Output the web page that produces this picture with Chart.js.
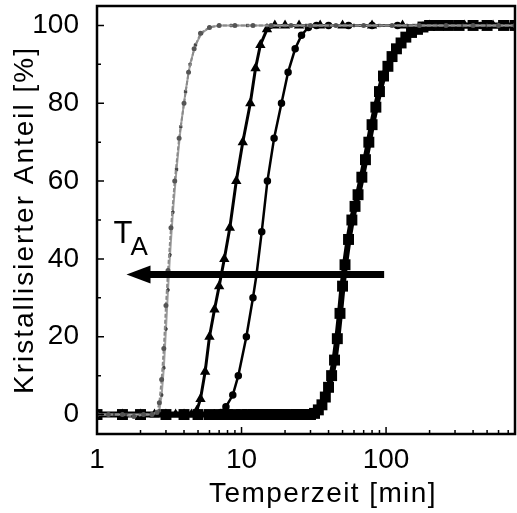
<!DOCTYPE html>
<html>
<head>
<meta charset="utf-8">
<script src="https://cdn.jsdelivr.net/npm/chart.js@4"></script>
<style>
  html, body { margin: 0; padding: 0; background: #fff; overflow: hidden; }
  #wrap { width: 517px; height: 513px; }
</style>
</head>
<body>
<div id="wrap"><canvas id="c"></canvas></div>
<script>
// values (x: Temperzeit in min, y: % crystallised)
var greyDashX = [1, 1.2, 1.5, 1.8, 2.1, 2.4, 2.6, 2.7, 2.8, 2.9, 3.0, 3.1, 3.25, 3.45, 3.7, 4.0, 4.3, 4.7, 5.2, 6, 7, 9, 12, 16, 22, 30, 45, 70, 110, 170, 260, 400, 600, 780];
var greyDashY = [0, 0, 0, -0.5, 0, 0, 0.5, 3, 9, 17, 28, 37, 48, 60, 71, 80, 88, 94, 98, 99.5, 100, 100, 100, 100, 100, 100, 100, 100, 100, 100, 100, 100, 100, 100];

var greyDotX = [1, 1.3, 1.6, 2, 2.4, 2.7, 2.8, 2.9, 3.0, 3.1, 3.2, 3.35, 3.55, 3.8, 4.1, 4.4, 4.8, 5.3, 6, 7, 8.5, 11, 15, 20, 28, 40, 60, 90, 140, 220, 340, 500, 780];
var greyDotY = [0, 0, 0, 0, 0, 1, 5, 12, 22, 32, 41, 52, 63, 74, 83, 90, 95, 98, 99.5, 100, 100, 100, 100, 100, 100, 100, 100, 100, 100, 100, 100, 100, 100];

var triX = [1, 1.5, 2, 2.5, 3, 3.5, 4, 4.5, 4.9, 5.2, 5.6, 6.0, 6.5, 7.0, 7.6, 8.3, 9.2, 10.2, 11.5, 12.5, 13.5, 15, 17, 20, 25, 35, 50, 80, 130, 200, 350, 550, 780];
var triY = [0, 0, 0, 0, 0, 0, 0, 0, 1, 4, 11, 20, 27, 33, 40, 48, 60, 70, 80, 89, 95, 99, 100, 100, 100, 100, 100, 100, 100, 100, 100, 100, 100];

var dotX = [1, 2, 3, 4, 5, 6, 6.6, 7.2, 7.8, 8.7, 9.5, 10.8, 12, 12.7, 13.8, 15.1, 16.8, 18.9, 21, 23.5, 26, 29, 33, 40, 55, 80, 120, 180, 280, 450, 780];
var dotY = [0, 0, 0, 0, 0, 0, 0, 0.5, 2, 5, 10, 20, 30, 36, 47, 60, 71, 80, 88, 94, 97.5, 99.5, 100, 100, 100, 100, 100, 100, 100, 100, 100];

var sqX = [1, 1.5, 2, 3, 4, 5, 6, 7, 8, 9, 10, 11, 12, 13, 14, 15, 16, 17, 18, 19, 20, 22, 24, 26, 28, 30, 32, 34, 36, 38, 40, 42, 44, 46, 48, 50, 52, 55, 58, 61, 64, 68, 72, 76, 80, 85, 90, 96, 103, 110, 118, 127, 137, 150, 165, 180, 200, 230, 270, 320, 400, 500, 650, 780];
var sqY = [0, 0, 0, 0, 0, 0, 0, 0, 0, 0, 0, 0, 0, 0, 0, 0, 0, 0, 0, 0, 0, 0, 0, 0, 0, 0, 0.3, 1.2, 2.5, 4.5, 7, 10, 14, 19.5, 26, 33, 38.5, 45, 50, 53.5, 56.5, 61, 65.5, 70, 74.5, 79, 83, 87, 89.5, 92, 94, 95.5, 97, 98.2, 99, 99.6, 100, 100, 100, 100, 100, 100, 100, 100];

var xLabelTicks = [1, 10, 100];
var xMinorTicks = [2, 3, 4, 5, 6, 7, 8, 9, 20, 30, 40, 50, 60, 70, 80, 90, 200, 300, 400, 500, 600, 700];
var yLabelTicks = [0, 20, 40, 60, 80, 100];
var yMinorTicks = [10, 30, 50, 70, 90];

var xTitle = 'Temperzeit [min]';
var yTitle = 'Kristallisierter Anteil [%]';

var arrowFrom = [97, 36];
var arrowTo = [1.6, 36];
var arrowLabel = { text: 'T', sub: 'A', x: 1.6, y: 44 };

function pts(xs, ys) {
    var out = [];
    for (var i = 0; i < xs.length; i++) out.push({ x: xs[i], y: ys[i] });
    return out;
}

var FONT = '"Liberation Sans", Arial, sans-serif';

var framePlugin = {
    id: 'frame',
    afterDatasetsDraw: function (chart) {
        var ctx = chart.ctx;
        var a = chart.chartArea;
        var xs = chart.scales.x, ys = chart.scales.y;
        ctx.save();
        ctx.strokeStyle = '#000';
        ctx.lineWidth = 2.5;
        ctx.strokeRect(a.left, a.top, a.right - a.left, a.bottom - a.top);

        ctx.lineWidth = 1.5;
        ctx.beginPath();
        xLabelTicks.forEach(function (v) {
            var p = xs.getPixelForValue(v);
            ctx.moveTo(p, a.bottom); ctx.lineTo(p, a.bottom - 7);
        });
        xMinorTicks.forEach(function (v) {
            var p = xs.getPixelForValue(v);
            ctx.moveTo(p, a.bottom); ctx.lineTo(p, a.bottom - 4);
        });
        yLabelTicks.forEach(function (v) {
            var p = ys.getPixelForValue(v);
            ctx.moveTo(a.left, p); ctx.lineTo(a.left + 7, p);
        });
        yMinorTicks.forEach(function (v) {
            var p = ys.getPixelForValue(v);
            ctx.moveTo(a.left, p); ctx.lineTo(a.left + 4, p);
        });
        ctx.stroke();

        // arrow
        var x1 = xs.getPixelForValue(arrowFrom[0]);
        var x2 = xs.getPixelForValue(arrowTo[0]);
        var yy = ys.getPixelForValue(arrowFrom[1]);
        ctx.lineWidth = 7;
        ctx.beginPath();
        ctx.moveTo(x1, yy); ctx.lineTo(x2 + 20, yy);
        ctx.stroke();
        ctx.fillStyle = '#000';
        ctx.beginPath();
        ctx.moveTo(x2, yy);
        ctx.lineTo(x2 + 24, yy - 9);
        ctx.lineTo(x2 + 24, yy + 9);
        ctx.closePath();
        ctx.fill();

        // T_A label
        var lx = xs.getPixelForValue(arrowLabel.x) - 13;
        var ly = ys.getPixelForValue(arrowLabel.y);
        ctx.textBaseline = 'alphabetic';
        ctx.textAlign = 'left';
        ctx.font = '31px ' + FONT;
        ctx.fillText(arrowLabel.text, lx, ly);
        ctx.font = '26px ' + FONT;
        ctx.fillText(arrowLabel.sub, lx + 17, ly + 12);

        // axis titles
        ctx.font = '28px ' + FONT;
        ctx.textAlign = 'center';
        ctx.letterSpacing = '1.4px';
        ctx.fillText(xTitle, (a.left + a.right) / 2 + 17, 502);
        ctx.letterSpacing = '2px';
        ctx.translate(33, (a.top + a.bottom) / 2);
        ctx.rotate(-Math.PI / 2);
        ctx.fillText(yTitle, 0, 0);
        ctx.restore();
    }
};

var config = {
    type: 'scatter',
    data: {
        datasets: [{
            data: pts(greyDashX, greyDashY),
            showLine: true,
            borderColor: '#8a8a8a',
            borderWidth: 2,
            borderDash: [4, 2],
            pointRadius: 1.5,
            pointBackgroundColor: '#555',
            pointBorderColor: '#555'
        }, {
            data: pts(greyDotX, greyDotY),
            showLine: true,
            borderColor: '#a0a0a0',
            borderWidth: 2,
            pointRadius: 1.8,
            pointStyle: 'crossRot',
            pointBorderColor: '#444'
        }, {
            data: pts(triX, triY),
            showLine: true,
            borderColor: '#000',
            borderWidth: 3,
            pointStyle: 'triangle',
            pointRadius: 3,
            pointBackgroundColor: '#000',
            pointBorderColor: '#000'
        }, {
            data: pts(dotX, dotY),
            showLine: true,
            borderColor: '#000',
            borderWidth: 2.5,
            pointRadius: 2.5,
            pointBackgroundColor: '#000',
            pointBorderColor: '#000'
        }, {
            data: pts(sqX, sqY),
            showLine: true,
            borderColor: '#000',
            borderWidth: 6,
            pointStyle: 'rect',
            pointRadius: 3.5,
            pointBackgroundColor: '#000',
            pointBorderColor: '#000'
        }]
    },
    options: {
        responsive: true,
        maintainAspectRatio: false,
        animation: false,
        layout: { autoPadding: false, padding: { top: 6, right: 2, left: 0, bottom: 0 } },
        plugins: { legend: { display: false }, tooltip: { enabled: false } },
        scales: {
            x: {
                type: 'logarithmic',
                min: 1,
                max: 780,
                grid: { display: false },
                border: { display: false },
                afterBuildTicks: function (scale) {
                    scale.ticks = xLabelTicks.map(function (v) { return { value: v }; });
                },
                afterFit: function (scale) {
                    scale.height = 79;
                    scale.paddingLeft = 0;
                    scale.paddingRight = 0;
                },
                ticks: {
                    color: '#000',
                    padding: 1,
                    maxRotation: 0,
                    autoSkip: false,
                    font: { family: FONT, size: 28 },
                    callback: function (v) { return String(v); }
                }
            },
            y: {
                min: -5,
                max: 105,
                grid: { display: false },
                border: { display: false },
                afterBuildTicks: function (scale) {
                    scale.ticks = yLabelTicks.map(function (v) { return { value: v }; });
                },
                afterFit: function (scale) {
                    scale.width = 97;
                    scale.paddingTop = 0;
                    scale.paddingBottom = 0;
                },
                ticks: {
                    color: '#000',
                    padding: 10,
                    font: { family: FONT, size: 28 }
                }
            }
        }
    },
    plugins: [framePlugin]
};

new Chart(document.getElementById('c'), config);
</script>
</body>
</html>
